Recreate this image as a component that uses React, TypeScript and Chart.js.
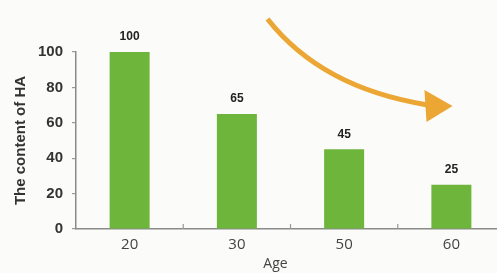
import React, { useEffect, useRef } from "react";
import { Chart, registerables } from "chart.js";

Chart.register(...registerables);

const categories = ["20", "30", "50", "60"];
const values = [100, 65, 45, 25];
const yTitle = "The content of HA";
const xTitle = "Age";
// decorative arrow in data space: [categoryIndex, value]
const arrowStart = [1.286, 118.6];
const arrowCtrl = [1.789, 79.7];
const arrowEnd = [2.777, 70.1];
const arrowHeadA = [2.749, 78.5];
const arrowTip = [3.011, 69.5];
const arrowHeadB = [2.768, 60.5];

const GREEN = "rgb(110,181,60)";
const ORANGE = "rgb(236,166,52)";

const decorPlugin = {
  id: "decor",
  beforeDraw(chart: any) {
    const { ctx, width, height } = chart;
    ctx.save();
    ctx.fillStyle = "#fbfbf9";
    ctx.fillRect(0, 0, width, height);
    ctx.restore();
  },
  afterDraw(chart: any) {
    const { ctx } = chart;
    const xs = chart.scales.x;
    const ys = chart.scales.y;
    const P = (p: number[]) => [xs.getPixelForValue(p[0]), ys.getPixelForValue(p[1])];
    ctx.save();
    // inner ticks on x axis between categories
    ctx.strokeStyle = "#999";
    ctx.lineWidth = 1.2;
    for (let i = 0; i < categories.length - 1; i++) {
      const px = (xs.getPixelForValue(i) + xs.getPixelForValue(i + 1)) / 2;
      ctx.beginPath();
      ctx.moveTo(px, chart.chartArea.bottom);
      ctx.lineTo(px, chart.chartArea.bottom - 5);
      ctx.stroke();
    }
    // data labels
    const meta = chart.getDatasetMeta(0);
    ctx.fillStyle = "#222";
    ctx.font = "bold 12px 'Liberation Sans', Arial, sans-serif";
    ctx.textAlign = "center";
    ctx.textBaseline = "middle";
    meta.data.forEach((bar: any, i: number) => {
      ctx.fillText(String(values[i]), bar.x, bar.y - 15);
    });
    // x title
    ctx.fillStyle = "#444";
    ctx.font = "14px 'Open Sans', sans-serif";
    ctx.fillText(xTitle, xs.getPixelForValue(1.36), 264);
    // arrow
    const s = P(arrowStart), c = P(arrowCtrl), e = P(arrowEnd);
    ctx.strokeStyle = ORANGE;
    ctx.lineWidth = 5;
    ctx.lineCap = "butt";
    ctx.beginPath();
    ctx.moveTo(s[0], s[1]);
    ctx.quadraticCurveTo(c[0], c[1], e[0], e[1]);
    ctx.stroke();
    const a = P(arrowHeadA), t = P(arrowTip), b = P(arrowHeadB);
    ctx.fillStyle = ORANGE;
    ctx.beginPath();
    ctx.moveTo(a[0], a[1]);
    ctx.lineTo(t[0], t[1]);
    ctx.lineTo(b[0], b[1]);
    ctx.closePath();
    ctx.fill();
    ctx.restore();
  },
};

export default function App() {
  const ref = useRef<HTMLCanvasElement>(null);
  useEffect(() => {
    if (!ref.current) return;
    const chart = new Chart(ref.current, {
      type: "bar",
      data: {
        labels: categories,
        datasets: [
          {
            data: values,
            backgroundColor: GREEN,
            borderWidth: 0,
            categoryPercentage: 1,
            barPercentage: 0.373,
          },
        ],
      },
      options: {
        animation: false,
        responsive: false,
        devicePixelRatio: 1,
        layout: { padding: { top: 52, left: 0, right: 0, bottom: 0 } },
        plugins: { legend: { display: false }, tooltip: { enabled: false } },
        scales: {
          x: {
            offset: true,
            grid: { display: false, drawTicks: false },
            border: { display: true, color: "#8a8a8a", width: 1.5 },
            ticks: {
              color: "#444",
              padding: 7,
              font: { family: "'Open Sans', sans-serif", size: 15 },
            },
            afterFit(scale: any) {
              scale.height = 44;
            },
          },
          y: {
            min: 0,
            max: 100,
            grid: { drawOnChartArea: false, drawTicks: true, tickLength: 4, color: "#999", lineWidth: 1.2 },
            border: { display: true, color: "#8a8a8a", width: 1.5 },
            ticks: {
              stepSize: 20,
              color: "#333",
              padding: 9,
              font: { family: "'Liberation Sans', Arial, sans-serif", size: 15, weight: "bold" },
            },
            title: {
              display: true,
              text: yTitle,
              color: "#333",
              padding: { top: 12, bottom: 0 },
              font: { family: "'Liberation Sans', Arial, sans-serif", size: 15, weight: "bold" },
            },
            afterFit(scale: any) {
              scale.width = 76;
            },
          },
        },
      },
      plugins: [decorPlugin],
    } as any);
    return () => chart.destroy();
  }, []);
  return (
    <div style={{ position: "fixed", left: 0, top: 0, width: 497, height: 273, overflow: "hidden" }}>
      <canvas ref={ref} width={505} height={273} style={{ display: "block", width: 505, height: 273 }} />
    </div>
  );
}
